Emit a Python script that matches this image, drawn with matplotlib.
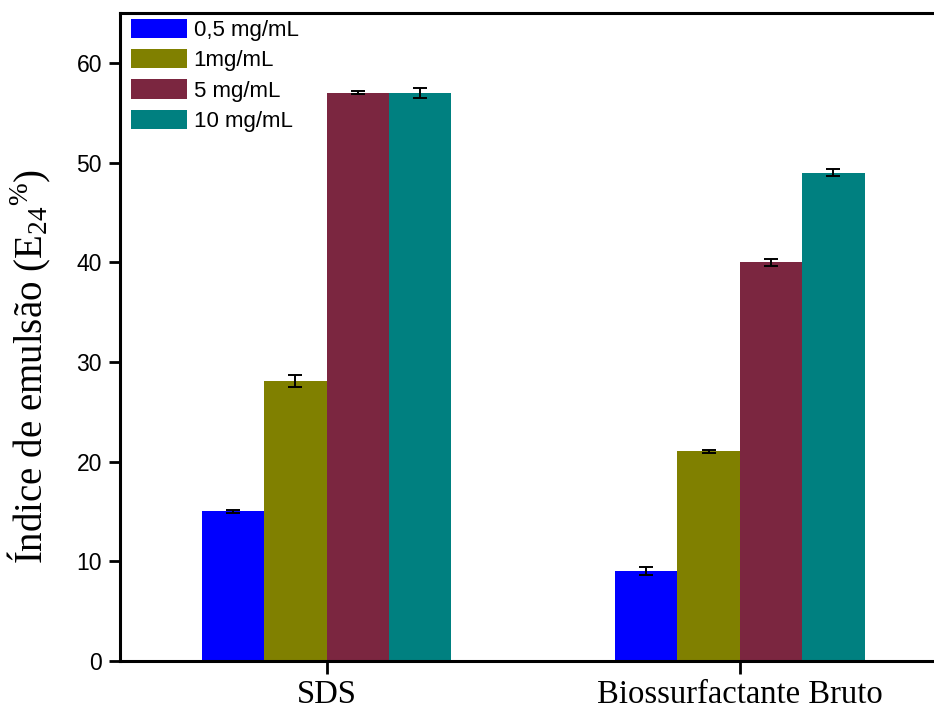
import numpy as np
import matplotlib
matplotlib.use('Agg')
from matplotlib import pyplot as plt

groups = ['SDS', 'Biossurfactante Bruto']
series = ['0,5 mg/mL', '1mg/mL', '5 mg/mL', '10 mg/mL']
values = [
    [15.0, 9.0],
    [28.1, 21.05],
    [57.0, 40.0],
    [57.0, 49.0],
]
errors = [
    [0.15, 0.4],
    [0.6, 0.15],
    [0.15, 0.35],
    [0.5, 0.35],
]
colors = ['#0000FF', '#808000', '#7B2640', '#008080']

plt.rcParams['mathtext.fontset'] = 'custom'
plt.rcParams['mathtext.rm'] = 'Liberation Serif'
plt.rcParams['mathtext.it'] = 'Liberation Serif:italic'

W, H = 934, 709
fig = plt.figure(figsize=(W / 100, H / 100), dpi=100)
ax = fig.add_axes([120 / W, (H - 661) / H, (946.5 - 120) / W, (661 - 13) / H])

x = np.arange(len(groups))
w = 0.151
for i, (name, vals, errs, c) in enumerate(zip(series, values, errors, colors)):
    pos = x + (i - 1.5) * w
    ax.bar(pos, vals, width=w, color=c, label=name, zorder=2)
    ax.errorbar(pos, vals, yerr=errs, fmt='none', ecolor='black', elinewidth=1.4,
                capsize=4.7, capthick=1.4, zorder=3)

ax.set_xlim(-0.5, 1.5)
ax.set_ylim(0, 65)
ax.set_yticks([0, 10, 20, 30, 40, 50, 60])
ax.set_xticks(x)
ax.set_xticklabels(groups, fontfamily='Liberation Serif', fontsize=23.5)
for lab in ax.get_yticklabels():
    lab.set_fontfamily('Liberation Sans')
    lab.set_fontsize(16.5)

ax.spines['right'].set_visible(False)
for s in ['left', 'bottom', 'top']:
    ax.spines[s].set_linewidth(2.2)
ax.tick_params(axis='y', direction='out', length=8, width=2, pad=5)
ax.tick_params(axis='x', direction='out', length=9, width=2, pad=4)

# y label: E with subscript 24 and a raised % after it
ax.set_ylabel(r'Índice de emulsão (E$\mathregular{_{24}{}^{\%}}$)',
              fontfamily='Liberation Serif', fontsize=28)
ax.yaxis.set_label_coords(-0.081, 0.454)

leg = ax.legend(loc='upper left', frameon=False, prop={'family': 'Liberation Sans', 'size': 16},
                handlelength=2.5, handleheight=0.95, handletextpad=0.3, labelspacing=0.36,
                borderaxespad=0.0, bbox_to_anchor=(0.003, 1.0046))

fig.savefig('out.png', dpi=100)
